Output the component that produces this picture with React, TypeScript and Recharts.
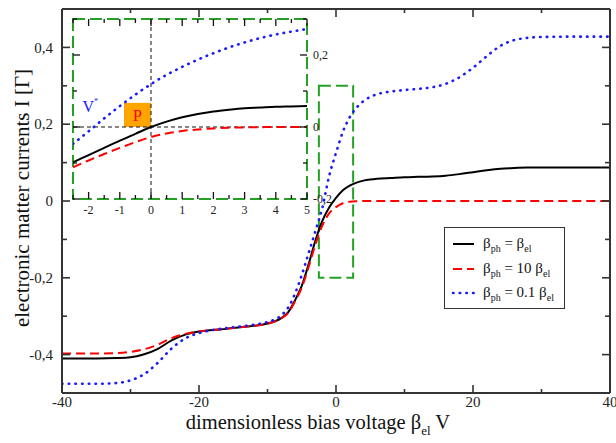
import React from 'react';
import {
  LineChart,
  Line,
  XAxis,
  YAxis,
  ReferenceArea,
  ReferenceLine,
  ReferenceDot,
  Legend,
  Label,
} from 'recharts';

// ---------------- data ----------------
const mainX = [
  -40, -35, -32, -30, -28, -26, -24, -22, -20, -18,
  -16, -14, -12, -10, -8, -7, -6, -5, -4, -3,
  -2, -1, 0, 1, 2, 3, 4, 5, 6, 8,
  10, 12, 14, 16, 18, 20, 22, 24, 26, 28,
  30, 35, 40,
];
const equalBeta = [
  -0.41, -0.41, -0.409, -0.407, -0.399, -0.385, -0.363, -0.348, -0.34, -0.336,
  -0.333, -0.329, -0.325, -0.319, -0.305, -0.29, -0.259, -0.221, -0.165, -0.103,
  -0.052, -0.017, 0.008, 0.028, 0.04, 0.048, 0.053, 0.056, 0.058, 0.06,
  0.062, 0.063, 0.064, 0.066, 0.07, 0.075, 0.08, 0.084, 0.086, 0.087,
  0.087, 0.087, 0.087,
];
const tenBeta = [
  -0.397, -0.397, -0.396, -0.393, -0.386, -0.374, -0.357, -0.346, -0.34, -0.336,
  -0.333, -0.329, -0.325, -0.32, -0.306, -0.292, -0.262, -0.226, -0.172, -0.113,
  -0.064, -0.032, -0.016, -0.006, -0.002, -0.0005, 0, 0, 0, 0,
  0, 0, 0, 0, 0, 0, 0, 0, 0, 0,
  0, 0, 0,
];
const tenthBeta = [
  -0.476, -0.476, -0.474, -0.467, -0.451, -0.421, -0.384, -0.358, -0.344, -0.336,
  -0.331, -0.327, -0.322, -0.315, -0.298, -0.278, -0.242, -0.193, -0.136, -0.078,
  -0.018, 0.065, 0.125, 0.18, 0.218, 0.243, 0.26, 0.271, 0.278, 0.285,
  0.289, 0.292, 0.296, 0.305, 0.322, 0.347, 0.377, 0.404, 0.419, 0.425,
  0.427, 0.428, 0.428,
];

const insetX = [-2.5, -2, -1.5, -1, -0.5, 0, 0.5, 1, 1.5, 2, 2.5, 3, 3.5, 4, 4.5, 5];
const insetEqual = [-0.098, -0.078, -0.058, -0.038, -0.019, 0, 0.015, 0.027, 0.036, 0.043, 0.048, 0.052, 0.054, 0.056, 0.057, 0.058];
const insetTen = [-0.112, -0.093, -0.075, -0.058, -0.042, -0.028, -0.018, -0.011, -0.007, -0.004, -0.002, -0.001, -0.0005, 0, 0, 0];
const insetTenth = [-0.047, -0.012, 0.024, 0.058, 0.09, 0.119, 0.145, 0.167, 0.187, 0.205, 0.221, 0.235, 0.247, 0.257, 0.265, 0.272];

const mainXTicks = [-40, -30, -20, -10, 0, 10, 20, 30, 40];
const mainYTicks = [-0.4, -0.3, -0.2, -0.1, 0, 0.1, 0.2, 0.3, 0.4];
const insetXTicks = [-2.5, -2, -1.5, -1, -0.5, 0, 0.5, 1, 1.5, 2, 2.5, 3, 3.5, 4, 4.5, 5];
const insetYTicks = [-0.2, -0.1, 0, 0.1, 0.2, 0.3];

const zoomBoxX = [-2.5, 2.5];
const zoomBoxY = [-0.2, 0.3];
const pointP = { x1: -0.865, x2: 0, y1: 0, y2: 0.067 };
const vStarPos = { x: -1.95, y: 0.058 };

const legendPrefixes = ['', '10 ', '0.1 '];
const xTitle = 'dimensionless bias voltage ';
const yTitle = 'electronic matter currents I [Γ]';

// ---------------- styles ----------------
const SERIF = '"Liberation Serif", "DejaVu Serif", serif';
const GREEN = '#25a025';
const FRAME = '#333';
const BLACK = '#000000';
const RED = '#ff0000';
const BLUE = '#1a1aff';
const ORANGE = '#ffa500';

const seriesStyles = [
  { key: 'equal', stroke: BLACK, width: 2, dash: undefined as string | undefined, cap: 'butt' },
  { key: 'ten', stroke: RED, width: 2, dash: '9 5', cap: 'butt' },
  { key: 'tenth', stroke: BLUE, width: 2.6, dash: '0.5 6.2', cap: 'round' },
];

const fmt = (v: number) => (Math.abs(v) < 1e-9 ? '0' : v.toFixed(1).replace('.', ','));
const isMajorY = (v: number) => Math.round(v * 10) % 2 === 0;

// ---------------- main ticks ----------------
const MainBottomTick = (p: any) => {
  const v = p.payload.value;
  const major = v % 20 === 0;
  return (
    <g>
      <line x1={p.x} x2={p.x} y1={p.y} y2={p.y - (major ? 8 : 4)} stroke={FRAME} strokeWidth={1.6} />
      {major && (
        <text x={p.x} y={p.y + 14} textAnchor="middle" fontSize={15} fontFamily={SERIF} fill="#222">
          {String(v)}
        </text>
      )}
    </g>
  );
};
const MainTopTick = (p: any) => {
  const v = p.payload.value;
  const major = v % 20 === 0;
  return <line x1={p.x} x2={p.x} y1={p.y} y2={p.y + (major ? 8 : 4)} stroke={FRAME} strokeWidth={1.6} />;
};
const MainLeftTick = (p: any) => {
  const v = p.payload.value;
  const major = isMajorY(v);
  return (
    <g>
      <line x1={p.x} x2={p.x + (major ? 8 : 5)} y1={p.y} y2={p.y} stroke={FRAME} strokeWidth={1.6} />
      {major && (
        <text x={p.x - 9} y={p.y} dy="0.35em" textAnchor="end" fontSize={15} fontFamily={SERIF} fill="#222">
          {fmt(v)}
        </text>
      )}
    </g>
  );
};
const MainRightTick = (p: any) => {
  const v = p.payload.value;
  const major = isMajorY(v);
  return <line x1={p.x} x2={p.x - (major ? 8 : 5)} y1={p.y} y2={p.y} stroke={FRAME} strokeWidth={1.6} />;
};

// ---------------- inset ticks ----------------
const InsetBottomTick = (p: any) => {
  const v = p.payload.value;
  const major = Number.isInteger(v);
  return (
    <g>
      <line x1={p.x} x2={p.x} y1={p.y} y2={p.y - (major ? 7 : 4)} stroke="#111" strokeWidth={1.3} />
      {major && (
        <text x={p.x} y={p.y + 15} textAnchor="middle" fontSize={12} fontFamily={SERIF} fill="#222">
          {String(v)}
        </text>
      )}
    </g>
  );
};
const InsetTopTick = (p: any) => {
  const v = p.payload.value;
  const major = Number.isInteger(v);
  return <line x1={p.x} x2={p.x} y1={p.y} y2={p.y + (major ? 7 : 4)} stroke="#111" strokeWidth={1.3} />;
};
const InsetLeftTick = (p: any) => {
  const v = p.payload.value;
  const major = isMajorY(v);
  return <line x1={p.x} x2={p.x + (major ? 7 : 4)} y1={p.y} y2={p.y} stroke="#111" strokeWidth={1.3} />;
};
const InsetRightTick = (p: any) => {
  const v = p.payload.value;
  const major = isMajorY(v);
  return (
    <g>
      <line x1={p.x} x2={p.x - (major ? 7 : 4)} y1={p.y} y2={p.y} stroke="#111" strokeWidth={1.3} />
      {major && (
        <text x={p.x + 6} y={p.y} dy="0.35em" textAnchor="start" fontSize={12} fontFamily={SERIF} fill="#222">
          {fmt(v)}
        </text>
      )}
    </g>
  );
};

// ---------------- labels ----------------
const XTitleLabel = () => (
  <text x={318} y={429} textAnchor="middle" fontSize={20.5} fontFamily={SERIF} fill="#111">
    {xTitle}β
    <tspan fontSize={13} dy={6}>el</tspan>
    <tspan dy={-6}> V</tspan>
  </text>
);
const YTitleLabel = () => (
  <text
    x={22}
    y={198}
    transform="rotate(-90 22 198)"
    textAnchor="middle"
    dominantBaseline="central"
    fontSize={21}
    fontFamily={SERIF}
    fill="#111"
  >
    {yTitle}
  </text>
);

const PLabel = (p: any) => {
  const vb = p.viewBox || {};
  return (
    <text
      x={vb.x + vb.width / 2}
      y={vb.y + vb.height / 2}
      dy="0.35em"
      textAnchor="middle"
      fontSize={16}
      fontFamily={SERIF}
      fill={RED}
    >
      P
    </text>
  );
};
const VStarLabel = (p: any) => {
  const vb = p.viewBox || {};
  const cx = vb.x + (vb.width || 0) / 2;
  const cy = vb.y + (vb.height || 0) / 2;
  return (
    <text x={cx} y={cy} dy="0.35em" textAnchor="middle" fontSize={16} fontFamily={SERIF} fill={BLUE}>
      V<tspan fontSize={8} dy={-8}>*</tspan>
    </text>
  );
};

const LegendBox = () => (
  <div
    style={{
      position: 'relative',
      width: 121,
      height: 82,
      boxSizing: 'border-box',
      border: '1.5px solid #333',
      background: '#fff',
      fontFamily: SERIF,
      fontSize: 15,
      color: '#111',
    }}
  >
    {seriesStyles.map((s, i) => (
      <div key={s.key} style={{ position: 'absolute', left: 0, top: 6 + i * 24.5, height: 20, width: 118 }}>
        <svg width={34} height={20} style={{ position: 'absolute', left: 0, top: 0 }}>
          <line
            x1={8}
            x2={29}
            y1={10}
            y2={10}
            stroke={s.stroke}
            strokeWidth={s.width}
            strokeDasharray={s.dash}
            strokeLinecap={s.cap as any}
          />
        </svg>
        <div style={{ position: 'absolute', left: 38, top: 0, whiteSpace: 'nowrap', lineHeight: '18px' }}>
          β<span style={{ fontSize: 10, position: 'relative', top: 4 }}>ph</span> = {legendPrefixes[i]}β
          <span style={{ fontSize: 10, position: 'relative', top: 4 }}>el</span>
        </div>
      </div>
    ))}
  </div>
);

export default function App() {
  const mainData = mainX.map((x, i) => ({ x, equal: equalBeta[i], ten: tenBeta[i], tenth: tenthBeta[i] }));
  const insetData = insetX.map((x, i) => ({ x, equal: insetEqual[i], ten: insetTen[i], tenth: insetTenth[i] }));

  const frameLine = { stroke: FRAME, strokeWidth: 2 };

  return (
    <div style={{ position: 'absolute', left: 0, top: 0, width: 616, height: 443, background: '#fff' }}>
      <div style={{ position: 'absolute', left: 0, top: 0 }}>
        <LineChart width={616} height={443} data={mainData} margin={{ top: 8, right: 5, bottom: 0, left: 0 }}>
          <XAxis
            dataKey="x"
            type="number"
            domain={[-40, 40]}
            allowDataOverflow
            ticks={mainXTicks}
            interval={0}
            height={50}
            tickSize={0}
            tickMargin={0}
            tickLine={false}
            axisLine={frameLine}
            tick={(p: any) => <MainBottomTick {...p} />}
          >
            <Label content={() => <XTitleLabel />} />
          </XAxis>
          <XAxis
            xAxisId="top"
            orientation="top"
            dataKey="x"
            type="number"
            domain={[-40, 40]}
            allowDataOverflow
            ticks={mainXTicks}
            interval={0}
            height={1}
            tickSize={0}
            tickMargin={0}
            tickLine={false}
            axisLine={frameLine}
            tick={(p: any) => <MainTopTick {...p} />}
          />
          <YAxis
            type="number"
            domain={[-0.5, 0.5]}
            allowDataOverflow
            ticks={mainYTicks}
            interval={0}
            width={62}
            tickSize={0}
            tickMargin={0}
            tickLine={false}
            axisLine={frameLine}
            tick={(p: any) => <MainLeftTick {...p} />}
          >
            <Label content={() => <YTitleLabel />} />
          </YAxis>
          <YAxis
            yAxisId="right"
            orientation="right"
            type="number"
            domain={[-0.5, 0.5]}
            allowDataOverflow
            ticks={mainYTicks}
            interval={0}
            width={1}
            tickSize={0}
            tickMargin={0}
            tickLine={false}
            axisLine={frameLine}
            tick={(p: any) => <MainRightTick {...p} />}
          />
          <ReferenceArea
            x1={zoomBoxX[0]}
            x2={zoomBoxX[1]}
            y1={zoomBoxY[0]}
            y2={zoomBoxY[1]}
            fill="none"
            fillOpacity={0}
            stroke={GREEN}
            strokeWidth={2}
            strokeDasharray="12 5"
          />
          {seriesStyles.map((s) => (
            <Line
              key={s.key}
              dataKey={s.key}
              type="monotone"
              stroke={s.stroke}
              strokeWidth={s.width}
              strokeDasharray={s.dash}
              strokeLinecap={s.cap as any}
              dot={false}
              activeDot={false}
              isAnimationActive={false}
            />
          ))}
          <Line
            xAxisId="top"
            yAxisId="right"
            dataKey="equal"
            stroke="none"
            dot={false}
            activeDot={false}
            legendType="none"
            isAnimationActive={false}
          />
          <Legend
            layout="horizontal"
            verticalAlign="middle"
            align="center"
            wrapperStyle={{ left: 444, top: 227, width: 121, height: 82 }}
            content={() => <LegendBox />}
          />
        </LineChart>
      </div>

      <div style={{ position: 'absolute', left: 0, top: 0 }}>
        <LineChart width={616} height={443} data={insetData} margin={{ top: 18, right: 308, bottom: 243, left: 72 }}>
          <XAxis
            dataKey="x"
            type="number"
            domain={[-2.5, 5]}
            allowDataOverflow
            ticks={insetXTicks}
            interval={0}
            height={1}
            tickSize={0}
            tickMargin={0}
            tickLine={false}
            axisLine={false}
            tick={(p: any) => <InsetBottomTick {...p} />}
          />
          <XAxis
            xAxisId="top"
            orientation="top"
            dataKey="x"
            type="number"
            domain={[-2.5, 5]}
            allowDataOverflow
            ticks={insetXTicks}
            interval={0}
            height={1}
            tickSize={0}
            tickMargin={0}
            tickLine={false}
            axisLine={false}
            tick={(p: any) => <InsetTopTick {...p} />}
          />
          <YAxis
            type="number"
            domain={[-0.2, 0.3]}
            allowDataOverflow
            ticks={insetYTicks}
            interval={0}
            width={1}
            tickSize={0}
            tickMargin={0}
            tickLine={false}
            axisLine={false}
            tick={(p: any) => <InsetLeftTick {...p} />}
          />
          <YAxis
            yAxisId="right"
            orientation="right"
            type="number"
            domain={[-0.2, 0.3]}
            allowDataOverflow
            ticks={insetYTicks}
            interval={0}
            width={1}
            tickSize={0}
            tickMargin={0}
            tickLine={false}
            axisLine={false}
            tick={(p: any) => <InsetRightTick {...p} />}
          />
          <ReferenceArea
            x1={pointP.x1}
            x2={pointP.x2}
            y1={pointP.y1}
            y2={pointP.y2}
            fill={ORANGE}
            fillOpacity={1}
            stroke="none"
            label={<PLabel />}
          />
          <ReferenceLine x={0} stroke="#111" strokeWidth={1} strokeDasharray="4 3" />
          <ReferenceLine y={0} stroke="#111" strokeWidth={1} strokeDasharray="4 3" />
          <ReferenceDot x={vStarPos.x} y={vStarPos.y} r={1} fill="none" stroke="none" label={<VStarLabel />} />
          {seriesStyles.map((s) => (
            <Line
              key={s.key}
              dataKey={s.key}
              type="monotone"
              stroke={s.stroke}
              strokeWidth={s.width}
              strokeDasharray={s.dash}
              strokeLinecap={s.cap as any}
              dot={false}
              activeDot={false}
              isAnimationActive={false}
            />
          ))}
          <Line
            xAxisId="top"
            yAxisId="right"
            dataKey="equal"
            stroke="none"
            dot={false}
            activeDot={false}
            legendType="none"
            isAnimationActive={false}
          />
          <ReferenceArea
            x1={-2.5}
            x2={5}
            y1={-0.2}
            y2={0.3}
            fill="none"
            fillOpacity={0}
            stroke={GREEN}
            strokeWidth={2}
            strokeDasharray="12 5"
          />
        </LineChart>
      </div>
    </div>
  );
}
